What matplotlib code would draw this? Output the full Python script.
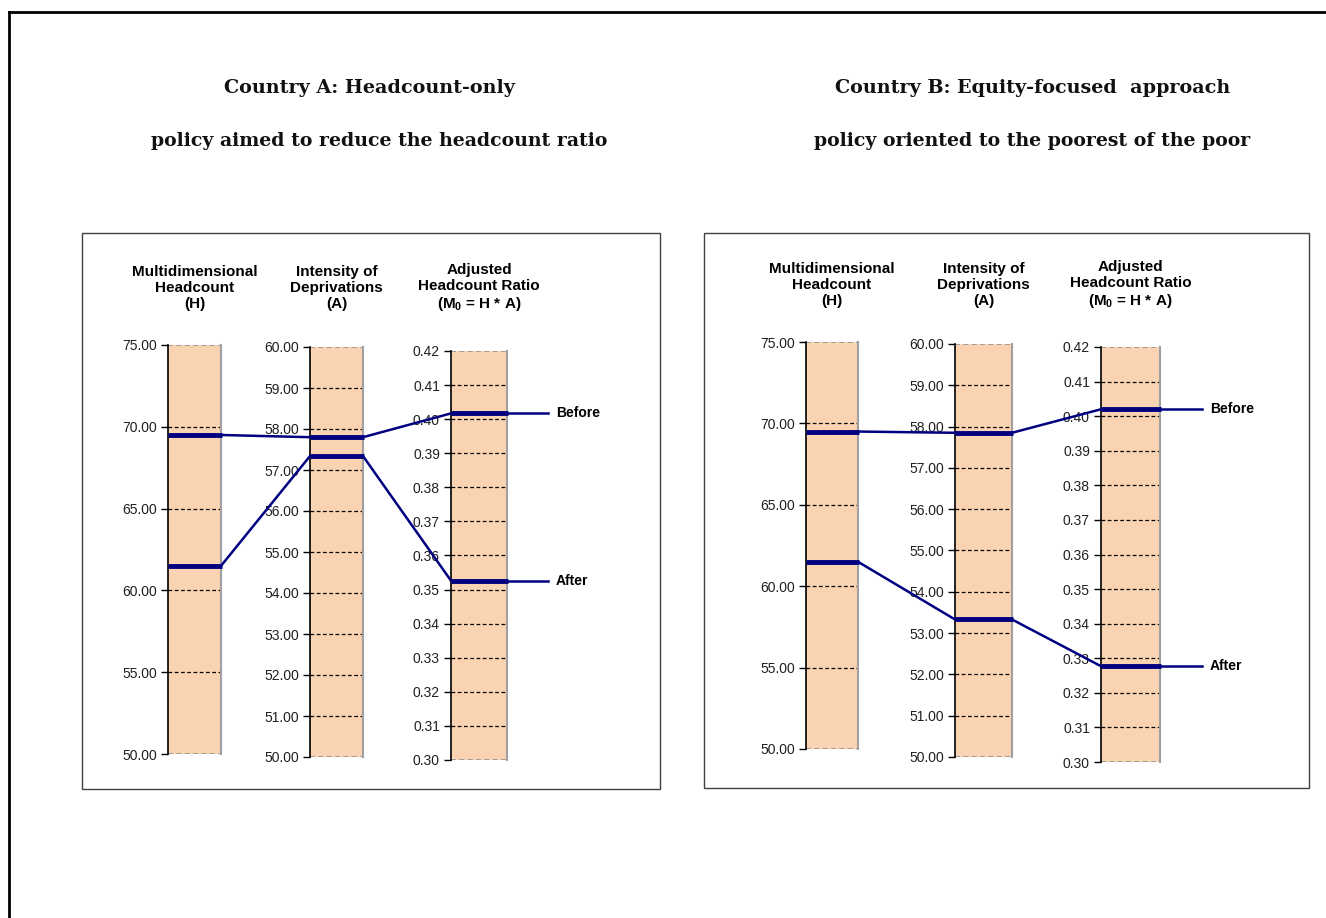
import numpy as np
import matplotlib
matplotlib.use("Agg")
import matplotlib.pyplot as plt
from matplotlib.lines import Line2D
from matplotlib.patches import Rectangle

plt.rcParams['font.family'] = ['Liberation Sans', 'DejaVu Sans']
plt.rcParams['mathtext.fontset'] = 'custom'
plt.rcParams['mathtext.rm'] = 'Liberation Sans'
plt.rcParams['mathtext.bf'] = 'Liberation Sans:bold'

# data
titles = [["Country A: Headcount-only", "policy aimed to reduce the headcount ratio"],
          ["Country B: Equity-focused  approach", "policy oriented to the poorest of the poor"]]
headers = ["Multidimensional\nHeadcount\n(H)", "Intensity of\nDeprivations\n(A)",
           "Adjusted\nHeadcount Ratio\n(M$_\\mathbf{0}$ = H * A)"]
ranges = [(50, 75, 5), (50, 60, 1), (0.30, 0.42, 0.01)]
h_before = [69.5, 69.5]
h_after = [61.5, 61.5]
a_before = [57.8, 57.85]
a_after = [57.34, 53.33]
m0_before = [0.4017, 0.4020]
m0_after = [0.3526, 0.3277]

W, H = 1326, 918
fig = plt.figure(figsize=(W / 100, H / 100), dpi=100)

def fx(x):
    return x / W

def fy(y):
    return 1 - y / H

# outer frame (only top and left show)
fig.add_artist(Line2D([fx(9), fx(9)], [fy(12), 0], color='black', lw=2, transform=fig.transFigure))
fig.add_artist(Line2D([fx(9), 1], [fy(12), fy(12)], color='black', lw=2, transform=fig.transFigure))

# pixel layout of each panel
boxes = [(82, 233, 660, 789), (704, 233, 1309, 788)]
bars = [[(168, 345, 221, 754), (310, 347, 363, 757), (451, 351, 507, 760)],
        [(806, 342, 858, 749), (955, 344, 1012, 757), (1101, 347, 1160, 762)]]
title_x = [[369, 379], [1033, 1032]]
header_y = [288, 285]
label_x = [556, 1210]
line_end = [548, 1202]
navy = '#000080'

for p in range(2):
    bx0, by0, bx1, by1 = boxes[p]
    fig.add_artist(Rectangle((fx(bx0), fy(by1)), fx(bx1 - bx0), (by1 - by0) / H, fill=False,
                             edgecolor='#404040', lw=1, transform=fig.transFigure))
    fig.text(fx(title_x[p][0]), fy(88), titles[p][0], ha='center', va='center',
             family='DejaVu Serif', fontweight='bold', fontsize=13.8, color='#111111')
    fig.text(fx(title_x[p][1]), fy(141), titles[p][1], ha='center', va='center',
             family='DejaVu Serif', fontweight='bold', fontsize=13.6, color='#111111')

    vals = [(h_before[p], h_after[p]), (a_before[p], a_after[p]), (m0_before[p], m0_after[p])]
    axes = []
    for i in range(3):
        x0, y0, x1, y1 = bars[p][i]
        ax = fig.add_axes([fx(x0), fy(y1), (x1 - x0) / W, (y1 - y0) / H])
        lo, hi, step = ranges[i]
        ax.set_ylim(lo, hi)
        ax.set_xlim(0, 1)
        ax.axhspan(lo, hi, color='#FAD4B2', zorder=0)
        ticks = np.arange(lo, hi + step / 2, step)
        for t in ticks[1:-1]:
            ax.axhline(t, color='black', lw=0.9, ls=(0, (3, 2)), zorder=1)
        ax.axhline(lo, color='#909090', lw=1.2, ls=(0, (3, 2)), zorder=1)
        ax.axhline(hi, color='#909090', lw=1.2, ls=(0, (3, 2)), zorder=1)
        ax.set_yticks(ticks)
        ax.set_yticklabels(['%.2f' % t for t in ticks], fontsize=10, color='#202020')
        ax.set_xticks([])
        for s in ['top', 'bottom']:
            ax.spines[s].set_visible(False)
        ax.spines['right'].set_color('#A0A0A0')
        ax.spines['right'].set_linewidth(1.5)
        ax.spines['left'].set_linewidth(1.2)
        ax.tick_params(axis='y', length=5, width=1, pad=3)
        for v in vals[i]:
            ax.plot([0, 1.02], [v, v], color=navy, lw=3.5, solid_capstyle='butt', clip_on=False, zorder=3)
        fig.text(fx((x0 + x1) / 2), fy(header_y[p]), headers[i], ha='center', va='center',
                 fontsize=11, fontweight='bold', linespacing=1.15)
        axes.append(ax)

    # connecting lines between bars, in figure coordinates
    inv = fig.transFigure.inverted()

    def to_fig(ax, x, y):
        return inv.transform(ax.transData.transform((x, y)))

    for k in range(2):
        pts = []
        for i in range(3):
            pts.append(to_fig(axes[i], 0, vals[i][k]))
            pts.append(to_fig(axes[i], 1, vals[i][k]))
        end = (fx(line_end[p]), pts[-1][1])
        fig.add_artist(Line2D([pts[1][0], pts[2][0]], [pts[1][1], pts[2][1]], color=navy, lw=1.8,
                              transform=fig.transFigure))
        fig.add_artist(Line2D([pts[3][0], pts[4][0]], [pts[3][1], pts[4][1]], color=navy, lw=1.8,
                              transform=fig.transFigure))
        fig.add_artist(Line2D([pts[5][0], end[0]], [pts[5][1], end[1]], color=navy, lw=1.8,
                              transform=fig.transFigure))
        fig.text(fx(label_x[p]), end[1], ['Before', 'After'][k], ha='left', va='center',
                 fontsize=10, fontweight='bold')

fig.savefig('out.png', dpi=100)
